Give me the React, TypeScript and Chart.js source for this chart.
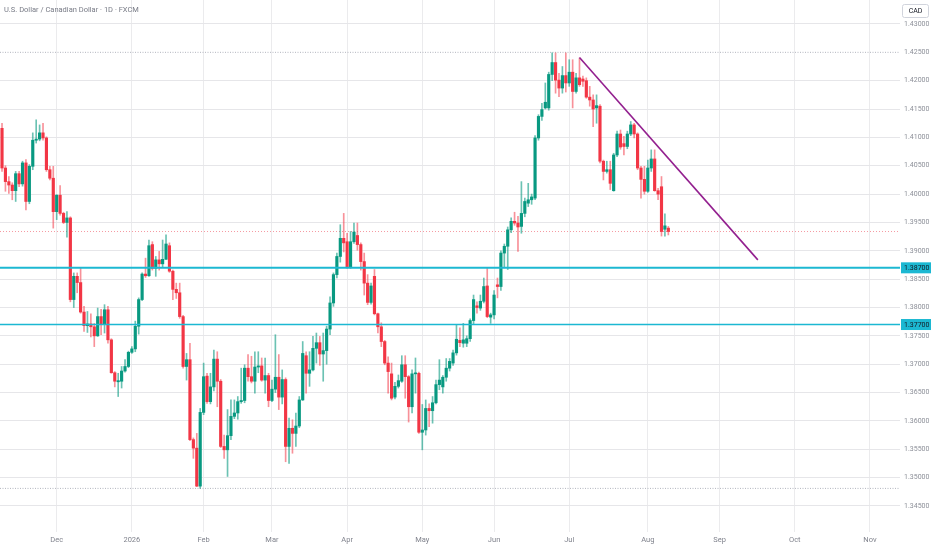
import React, { useEffect, useRef } from "react";
import { Chart, registerables } from "chart.js";

Chart.register(...registerables);

// ---------- DATA ----------
const title = "U.S. Dollar / Canadian Dollar · 1D · FXCM";
const currency = "CAD";
const firstBarIndex = -16; // bar 0 = Dec 1

const opens = [
  1.4116, 1.4046, 1.4022, 1.4016, 1.4006, 1.4036, 1.4018, 1.4055, 1.3987, 1.4049,
  1.4095, 1.4097, 1.4108, 1.4099, 1.4043, 1.4028, 1.3969, 1.3998, 1.3966, 1.3950,
  1.3958, 1.3814, 1.3855, 1.3844, 1.3792, 1.3768, 1.3771, 1.3766, 1.3750, 1.3784,
  1.3771, 1.3796, 1.3743, 1.3685, 1.3669, 1.3670, 1.3688, 1.3696, 1.3721, 1.3727,
  1.3767, 1.3814, 1.3859, 1.3856, 1.3911, 1.3869, 1.3884, 1.3877, 1.3885, 1.3909,
  1.3864, 1.3832, 1.3826, 1.3784, 1.3696, 1.3708, 1.3567, 1.3552, 1.3485, 1.3615,
  1.3679, 1.3634, 1.3660, 1.3709, 1.3670, 1.3555, 1.3549, 1.3574, 1.3608, 1.3614,
  1.3634, 1.3636, 1.3693, 1.3678, 1.3670, 1.3695, 1.3697, 1.3672, 1.3680, 1.3636,
  1.3656, 1.3677, 1.3642, 1.3673, 1.3555, 1.3587, 1.3578, 1.3591, 1.3637, 1.3715,
  1.3684, 1.3690, 1.3728, 1.3738, 1.3718, 1.3724, 1.3762, 1.3808, 1.3858, 1.3890,
  1.3922, 1.3916, 1.3872, 1.3916, 1.3927, 1.3911, 1.3881, 1.3843, 1.3809, 1.3855,
  1.3789, 1.3766, 1.3740, 1.3702, 1.3683, 1.3642, 1.3661, 1.3670, 1.3699, 1.3678,
  1.3625, 1.3683, 1.3684, 1.3580, 1.3584, 1.3622, 1.3618, 1.3632, 1.3664, 1.3660,
  1.3677, 1.3693, 1.3702, 1.3720, 1.3742, 1.3737, 1.3737, 1.3745, 1.3777, 1.3803,
  1.3799, 1.3811, 1.3838, 1.3783, 1.3787, 1.3840, 1.3837, 1.3896, 1.3908, 1.3937,
  1.3952, 1.3949, 1.3943, 1.3966, 1.3984, 1.3990, 1.3993, 1.4099, 1.4137, 1.4152,
  1.4152, 1.4211, 1.4232, 1.4201, 1.4187, 1.4209, 1.4196, 1.4215, 1.4181, 1.4205,
  1.4203, 1.4200, 1.4171, 1.4166, 1.4152, 1.4155, 1.4058, 1.4040, 1.4043, 1.4006,
  1.4069, 1.4106, 1.4089, 1.4084, 1.4106, 1.4122, 1.4106, 1.4046, 1.4026, 1.4005,
  1.4046, 1.4062, 1.4006, 1.4013, 1.3938, 1.3940,
];

const highs = [
  1.4125, 1.4050, 1.4031, 1.4020, 1.4040, 1.4040, 1.4058, 1.4061, 1.4052, 1.4108,
  1.4131, 1.4122, 1.4125, 1.4101, 1.4049, 1.4049, 1.3999, 1.4015, 1.3968, 1.3969,
  1.3960, 1.3861, 1.3861, 1.3870, 1.3802, 1.3793, 1.3789, 1.3772, 1.3799, 1.3797,
  1.3805, 1.3802, 1.3745, 1.3687, 1.3684, 1.3696, 1.3708, 1.3723, 1.3731, 1.3776,
  1.3817, 1.3861, 1.3887, 1.3919, 1.3916, 1.3890, 1.3899, 1.3919, 1.3928, 1.3914,
  1.3866, 1.3843, 1.3843, 1.3786, 1.3719, 1.3737, 1.3570, 1.3578, 1.3622, 1.3702,
  1.3684, 1.3684, 1.3725, 1.3722, 1.3673, 1.3575, 1.3620, 1.3637, 1.3637, 1.3643,
  1.3693, 1.3699, 1.3717, 1.3714, 1.3722, 1.3722, 1.3711, 1.3711, 1.3684, 1.3672,
  1.3752, 1.3717, 1.3690, 1.3676, 1.3605, 1.3602, 1.3614, 1.3643, 1.3740, 1.3722,
  1.3722, 1.3749, 1.3755, 1.3749, 1.3755, 1.3767, 1.3819, 1.3861, 1.3896, 1.3946,
  1.3966, 1.3931, 1.3934, 1.3949, 1.3949, 1.3914, 1.3896, 1.3858, 1.3843, 1.3867,
  1.3790, 1.3773, 1.3742, 1.3713, 1.3702, 1.3668, 1.3681, 1.3715, 1.3715, 1.3680,
  1.3690, 1.3711, 1.3686, 1.3629, 1.3637, 1.3630, 1.3643, 1.3672, 1.3708, 1.3680,
  1.3710, 1.3710, 1.3725, 1.3770, 1.3764, 1.3772, 1.3750, 1.3780, 1.3822, 1.3810,
  1.3822, 1.3852, 1.3869, 1.3790, 1.3830, 1.3852, 1.3900, 1.3912, 1.3942, 1.3958,
  1.3968, 1.3961, 1.4022, 1.3993, 1.4019, 1.4000, 1.4103, 1.4140, 1.4160, 1.4196,
  1.4215, 1.4249, 1.4249, 1.4213, 1.4225, 1.4249, 1.4237, 1.4237, 1.4213, 1.4240,
  1.4208, 1.4205, 1.4190, 1.4175, 1.4175, 1.4158, 1.4060, 1.4058, 1.4058, 1.4072,
  1.4111, 1.4113, 1.4102, 1.4111, 1.4128, 1.4125, 1.4108, 1.4049, 1.4049, 1.4060,
  1.4078, 1.4078, 1.4010, 1.4031, 1.3965, 1.3943,
];

const lows = [
  1.4040, 1.4005, 1.4001, 1.3990, 1.3987, 1.4013, 1.4014, 1.3972, 1.3983, 1.4043,
  1.4090, 1.4094, 1.4095, 1.4040, 1.4025, 1.3940, 1.3955, 1.3963, 1.3948, 1.3924,
  1.3810, 1.3800, 1.3826, 1.3790, 1.3758, 1.3756, 1.3748, 1.3731, 1.3749, 1.3752,
  1.3755, 1.3737, 1.3684, 1.3660, 1.3643, 1.3658, 1.3686, 1.3694, 1.3719, 1.3722,
  1.3753, 1.3812, 1.3853, 1.3855, 1.3866, 1.3855, 1.3866, 1.3872, 1.3885, 1.3862,
  1.3814, 1.3816, 1.3781, 1.3693, 1.3672, 1.3565, 1.3534, 1.3484, 1.3481, 1.3611,
  1.3631, 1.3630, 1.3653, 1.3625, 1.3553, 1.3534, 1.3502, 1.3567, 1.3604, 1.3603,
  1.3631, 1.3632, 1.3670, 1.3667, 1.3649, 1.3685, 1.3670, 1.3649, 1.3625, 1.3634,
  1.3650, 1.3620, 1.3630, 1.3528, 1.3525, 1.3543, 1.3555, 1.3588, 1.3636, 1.3649,
  1.3661, 1.3688, 1.3702, 1.3698, 1.3670, 1.3700, 1.3752, 1.3802, 1.3852, 1.3880,
  1.3898, 1.3869, 1.3869, 1.3913, 1.3901, 1.3866, 1.3822, 1.3805, 1.3806, 1.3787,
  1.3755, 1.3731, 1.3699, 1.3649, 1.3637, 1.3639, 1.3658, 1.3668, 1.3640, 1.3598,
  1.3614, 1.3649, 1.3578, 1.3549, 1.3575, 1.3590, 1.3596, 1.3630, 1.3655, 1.3649,
  1.3670, 1.3688, 1.3698, 1.3716, 1.3731, 1.3730, 1.3731, 1.3740, 1.3770, 1.3790,
  1.3795, 1.3808, 1.3782, 1.3772, 1.3780, 1.3817, 1.3830, 1.3870, 1.3867, 1.3932,
  1.3945, 1.3899, 1.3931, 1.3960, 1.3978, 1.3982, 1.3990, 1.4095, 1.4130, 1.4150,
  1.4148, 1.4200, 1.4178, 1.4172, 1.4178, 1.4180, 1.4190, 1.4152, 1.4178, 1.4190,
  1.4190, 1.4169, 1.4155, 1.4119, 1.4125, 1.4055, 1.4025, 1.4037, 1.4008, 1.4005,
  1.4066, 1.4079, 1.4069, 1.4080, 1.4103, 1.4099, 1.4043, 1.3993, 1.4000, 1.4003,
  1.4040, 1.4005, 1.3990, 1.3926, 1.3926, 1.3928,
];

const closes = [
  1.4046, 1.4022, 1.4016, 1.4006, 1.4036, 1.4018, 1.4055, 1.3987, 1.4049, 1.4095,
  1.4097, 1.4108, 1.4099, 1.4043, 1.4028, 1.3969, 1.3998, 1.3966, 1.3950, 1.3958,
  1.3814, 1.3855, 1.3844, 1.3792, 1.3768, 1.3771, 1.3766, 1.3750, 1.3784, 1.3771,
  1.3796, 1.3743, 1.3685, 1.3670, 1.3671, 1.3688, 1.3696, 1.3721, 1.3727, 1.3767,
  1.3814, 1.3859, 1.3856, 1.3909, 1.3869, 1.3884, 1.3877, 1.3885, 1.3912, 1.3864,
  1.3832, 1.3826, 1.3784, 1.3696, 1.3708, 1.3567, 1.3552, 1.3485, 1.3615, 1.3678,
  1.3634, 1.3660, 1.3709, 1.3670, 1.3555, 1.3549, 1.3574, 1.3608, 1.3614, 1.3634,
  1.3636, 1.3693, 1.3678, 1.3670, 1.3695, 1.3697, 1.3672, 1.3680, 1.3636, 1.3656,
  1.3677, 1.3642, 1.3673, 1.3555, 1.3587, 1.3578, 1.3591, 1.3637, 1.3719, 1.3684,
  1.3690, 1.3728, 1.3738, 1.3718, 1.3724, 1.3762, 1.3808, 1.3858, 1.3890, 1.3922,
  1.3914, 1.3872, 1.3916, 1.3933, 1.3911, 1.3881, 1.3843, 1.3809, 1.3838, 1.3789,
  1.3766, 1.3740, 1.3702, 1.3687, 1.3640, 1.3661, 1.3671, 1.3699, 1.3678, 1.3625,
  1.3683, 1.3684, 1.3580, 1.3584, 1.3622, 1.3618, 1.3632, 1.3664, 1.3672, 1.3677,
  1.3693, 1.3705, 1.3720, 1.3744, 1.3738, 1.3743, 1.3745, 1.3777, 1.3814, 1.3800,
  1.3811, 1.3837, 1.3784, 1.3787, 1.3822, 1.3837, 1.3896, 1.3908, 1.3937, 1.3952,
  1.3949, 1.3942, 1.3966, 1.3987, 1.3990, 1.3995, 1.4099, 1.4137, 1.4149, 1.4162,
  1.4211, 1.4232, 1.4201, 1.4187, 1.4209, 1.4196, 1.4215, 1.4181, 1.4205, 1.4193,
  1.4199, 1.4171, 1.4166, 1.4150, 1.4156, 1.4058, 1.4040, 1.4043, 1.4019, 1.4069,
  1.4106, 1.4083, 1.4084, 1.4106, 1.4122, 1.4106, 1.4046, 1.4026, 1.4005, 1.4046,
  1.4062, 1.4006, 1.4000, 1.3934, 1.3944, 1.3934,
];

const monthLabels = ["Dec", "2026", "Feb", "Mar", "Apr", "May", "Jun", "Jul", "Aug", "Sep", "Oct", "Nov"];
const monthStartBars = [0, 22, 43, 63, 85, 107, 128, 150, 173, 194, 216, 238];

const priceTicks = [
  1.345, 1.35, 1.355, 1.36, 1.365, 1.37, 1.375, 1.38, 1.385,
  1.39, 1.395, 1.4, 1.405, 1.41, 1.415, 1.42, 1.425, 1.43,
];

const levelPrices = [1.387, 1.377];
const levelWidths = [2, 1.5];
const lastPrice = 1.3934;
const periodHigh = 1.425;
const periodLow = 1.3481;
const trendBars = [153, 205.2];
const trendPrices = [1.4241, 1.3884];

// ---------- VIEW ----------
const xMin = -16.59;
const xMax = 246.8;
const yMin = 1.34041;
const yMax = 1.43423;

const UP = "#089981";
const DOWN = "#f23645";
const UP_WICK = "rgba(8,153,129,0.6)";
const DOWN_WICK = "rgba(242,54,69,0.55)";
const LEVEL = "#1cb8d2";
const FONT = "Roboto, 'Noto Sans', sans-serif";

export default function App() {
  const ref = useRef<HTMLCanvasElement | null>(null);

  useEffect(() => {
    document.body.style.margin = "0";
    const canvas = ref.current;
    if (!canvas) return;

    const up = opens.map((o, i) => closes[i] >= o);
    const xs = opens.map((_, i) => firstBarIndex + i);

    const hline = (y: number) => [
      { x: xMin, y },
      { x: xMax, y },
    ];

    const overlay = {
      id: "overlay",
      afterDraw(chart: any) {
        const ctx = chart.ctx;
        const ys = chart.scales.y;
        const area = chart.chartArea;
        ctx.save();
        // title
        ctx.font = `7.5px ${FONT}`;
        ctx.fillStyle = "#787b86";
        ctx.textBaseline = "middle";
        ctx.textAlign = "left";
        ctx.fillText(title, 4, 10);
        // currency box
        ctx.fillStyle = "#ffffff";
        ctx.strokeStyle = "#d1d4dc";
        ctx.lineWidth = 1;
        ctx.beginPath();
        (ctx as any).roundRect(902.5, 4.5, 26, 13, 2);
        ctx.fill();
        ctx.stroke();
        ctx.fillStyle = "#131722";
        ctx.textAlign = "center";
        ctx.font = `7px ${FONT}`;
        ctx.fillText(currency, 915.5, 11.5);
        // level labels
        levelPrices.forEach((p) => {
          const y = ys.getPixelForValue(p);
          ctx.fillStyle = LEVEL;
          ctx.fillRect(area.right + 1, y - 5.5, 30, 11);
          ctx.fillStyle = "#131722";
          ctx.textAlign = "left";
          ctx.font = `7px ${FONT}`;
          ctx.fillText(p.toFixed(5), area.right + 4, y + 0.5);
        });
        ctx.restore();
      },
    };

    const chart = new Chart(canvas, {
      type: "bar",
      data: {
        datasets: [
          {
            type: "line",
            data: hline(levelPrices[0]),
            borderColor: LEVEL,
            borderWidth: levelWidths[0],
            pointRadius: 0,
            order: 0,
          } as any,
          {
            type: "line",
            data: hline(levelPrices[1]),
            borderColor: LEVEL,
            borderWidth: levelWidths[1],
            pointRadius: 0,
            order: 0,
          } as any,
          {
            type: "line",
            data: trendBars.map((b, i) => ({ x: b, y: trendPrices[i] })),
            borderColor: "#93208f",
            borderWidth: 1.6,
            pointRadius: 0,
            order: 0,
          } as any,
          {
            type: "bar",
            data: xs.map((x, i) => ({ x, y: [opens[i], closes[i]] })),
            backgroundColor: up.map((u) => (u ? UP : DOWN)),
            borderWidth: 0,
            barThickness: 2.5,
            minBarLength: 1,
            grouped: false,
            order: 1,
          } as any,
          {
            type: "bar",
            data: xs.map((x, i) => ({ x, y: [lows[i], highs[i]] })),
            backgroundColor: up.map((u) => (u ? UP_WICK : DOWN_WICK)),
            borderWidth: 0,
            barThickness: 1,
            grouped: false,
            order: 2,
          } as any,
          {
            type: "line",
            data: hline(lastPrice),
            borderColor: "#f59aa2",
            borderWidth: 1,
            borderDash: [1, 2],
            pointRadius: 0,
            order: 3,
          } as any,
          {
            type: "line",
            data: hline(periodHigh),
            borderColor: "#b2b5be",
            borderWidth: 1,
            borderDash: [1, 1.5],
            pointRadius: 0,
            order: 3,
          } as any,
          {
            type: "line",
            data: hline(periodLow),
            borderColor: "#b2b5be",
            borderWidth: 1,
            borderDash: [1, 1.5],
            pointRadius: 0,
            order: 3,
          } as any,
        ],
      },
      options: {
        animation: false,
        responsive: false,
        events: [],
        layout: { padding: 0 },
        plugins: { legend: { display: false }, tooltip: { enabled: false } },
        scales: {
          x: {
            type: "linear",
            min: xMin,
            max: xMax,
            offset: false,
            afterBuildTicks: (s: any) => {
              s.ticks = monthStartBars.map((v) => ({ value: v }));
            },
            afterFit: (s: any) => {
              s.height = 18;
              s.paddingLeft = 0;
              s.paddingRight = 0;
            },
            ticks: {
              autoSkip: false,
              maxRotation: 0,
              padding: 4,
              color: "#80838d",
              font: { size: 7.5, family: FONT },
              callback: (v: any) => {
                const k = monthStartBars.indexOf(Number(v));
                return k >= 0 ? monthLabels[k] : "";
              },
            },
            grid: { color: "#ebebed", drawTicks: false, offset: false },
            border: { display: false },
          },
          y: {
            type: "linear",
            position: "right",
            min: yMin,
            max: yMax,
            afterBuildTicks: (s: any) => {
              s.ticks = priceTicks.map((v) => ({ value: v }));
            },
            afterFit: (s: any) => {
              s.width = 32;
              s.paddingTop = 0;
              s.paddingBottom = 0;
            },
            ticks: {
              padding: 4,
              color: "#8c8f98",
              font: { size: 7, family: FONT },
              callback: (v: any) => Number(v).toFixed(5),
            },
            grid: {
              drawTicks: false,
              color: (c: any) =>
                c.tick && Math.abs(c.tick.value - periodHigh) < 1e-6 ? "rgba(0,0,0,0)" : "#e6e6e9",
            },
            border: { display: false },
          },
        },
      },
      plugins: [overlay],
    } as any);

    return () => chart.destroy();
  }, []);

  return (
    <div style={{ width: 932, height: 550, position: "relative", background: "#fff" }}>
      <canvas ref={ref} width={932} height={550} style={{ display: "block" }} />
    </div>
  );
}
